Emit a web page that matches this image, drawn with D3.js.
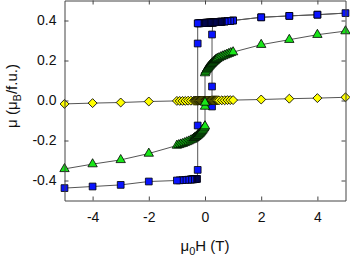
<!DOCTYPE html>
<html>
<head>
<meta charset="utf-8">
<script src="https://cdn.jsdelivr.net/npm/d3@7"></script>
<style>
  body { margin: 0; background: #fff; }
  text { font-family: "Liberation Sans", Arial, sans-serif; }
</style>
</head>
<body>
<div id="chart"></div>
<script>
// field (T) and moment (muB/f.u.)

// blue squares: virgin jump at +0.25 T, then full sweep 5 -> -5 T
var blueField = [0.25, 0.25, 0.25, 0.28, 0.4, 0.5, 0.6, 0.7, 0.8, 0.9, 1, 2, 3, 4, 5,
  4, 3, 2, 1, 0.9, 0.8, 0.7, 0.6,
  0.57, 0.54, 0.51, 0.48, 0.45, 0.42, 0.39, 0.36, 0.33, 0.30, 0.27, 0.24, 0.21, 0.18,
  0.15, 0.12, 0.09, 0.06, 0.03, 0, -0.03, -0.06, -0.09, -0.12, -0.15, -0.18, -0.21, -0.24,
  -0.26, -0.26, -0.26, -0.26, -0.26,
  -0.28, -0.31, -0.34, -0.37, -0.40, -0.43, -0.46, -0.49, -0.52,
  -0.6, -0.7, -0.8, -0.9, -1, -2, -3, -4, -5];
var blueMoment = [-0.03, 0.07, 0.33, 0.388, 0.392, 0.393, 0.394, 0.395, 0.397, 0.398, 0.4, 0.416, 0.423, 0.429, 0.437,
  0.429, 0.423, 0.416, 0.4, 0.398, 0.397, 0.395, 0.394,
  0.394, 0.394, 0.393, 0.393, 0.393, 0.392, 0.392, 0.392, 0.391, 0.391, 0.391, 0.39, 0.39, 0.39,
  0.39, 0.389, 0.389, 0.389, 0.389, 0.388, 0.388, 0.388, 0.387, 0.387, 0.387, 0.386, 0.386, 0.386,
  0.386, 0.285, 0.0, -0.125, -0.347,
  -0.392, -0.392, -0.393, -0.393, -0.394, -0.394, -0.394, -0.395, -0.395,
  -0.396, -0.397, -0.398, -0.399, -0.4, -0.405, -0.422, -0.43, -0.438];

// yellow diamonds
var yellowField = [-5, -4, -3, -2, -1, -0.9, -0.8, -0.7, -0.6, -0.5, -0.4,
  -0.36, -0.33, -0.3, -0.27, -0.24, -0.21, -0.18, -0.15, -0.12, -0.09, -0.06, -0.03, 0,
  0.03, 0.06, 0.09, 0.12, 0.15, 0.18, 0.21, 0.24, 0.27, 0.3, 0.33, 0.36, 0.39, 0.42, 0.45,
  0.5, 0.6, 0.7, 0.8, 0.9, 1, 2, 3, 4, 5];
var yellowMoment = [-0.017, -0.013, -0.01, -0.005, -0.002, -0.002, -0.002, -0.002, -0.001, -0.001, -0.001,
  -0.001, -0.001, -0.001, -0.001, -0.001, 0, 0, 0, 0, 0, 0, 0, 0,
  0, 0, 0, 0, 0, 0, 0, 0.001, 0.001, 0.001, 0.001, 0.001, 0.001, 0.001, 0.001,
  0.001, 0.001, 0.001, 0.002, 0.002, 0.002, 0.005, 0.009, 0.012, 0.016];

// green triangles
var greenField = [-5, -4, -3, -2, -1, -0.93, -0.86, -0.79, -0.72, -0.65, -0.58, -0.51, -0.45,
  -0.4, -0.37, -0.34, -0.31, -0.28, -0.25, -0.22, -0.19, -0.16, -0.13, -0.1, -0.07, -0.04, -0.02,
  0, 0, 0, 0,
  0.02, 0.05, 0.08, 0.11, 0.14, 0.17, 0.2, 0.23, 0.26, 0.29, 0.32, 0.35, 0.38, 0.41, 0.44,
  0.5, 0.57, 0.64, 0.71, 0.78, 0.85, 0.92, 1, 2, 3, 4, 5];
var greenMoment = [-0.342, -0.318, -0.297, -0.265, -0.225, -0.222, -0.219, -0.216, -0.212, -0.208, -0.204, -0.199, -0.195,
  -0.19, -0.187, -0.184, -0.181, -0.177, -0.174, -0.17, -0.166, -0.161, -0.156, -0.151, -0.145, -0.139, -0.134,
  -0.128, -0.03, -0.01, 0.137,
  0.145, 0.152, 0.158, 0.164, 0.169, 0.174, 0.179, 0.183, 0.187, 0.191, 0.195, 0.199, 0.203, 0.206, 0.209,
  0.213, 0.218, 0.222, 0.226, 0.23, 0.234, 0.238, 0.242, 0.279, 0.304, 0.329, 0.347];

var xTicks = [-4, -2, 0, 2, 4];
var yTicks = [-0.4, -0.2, 0.0, 0.2, 0.4];

var width = 350, height = 257;
var padL = 64.5, padR = 345.5, padT = 0.5, padB = 200.5;

var svg = d3.select("#chart").append("svg")
    .attr("width", width)
    .attr("height", height);

var x = d3.scaleLinear().domain([-5, 5]).range([padL, padR]);
var y = d3.scaleLinear().domain([-0.5, 0.5]).range([padB, padT]);

var zip = function(a, b) { return a.map(function(v, i) { return [v, b[i]]; }); };
var line = d3.line().x(function(d) { return x(d[0]); }).y(function(d) { return y(d[1]); });

// diamonds are squares turned by 45 degrees
var series = [
  { pts: zip(blueField, blueMoment), sym: d3.symbolSquare, size: 46, rot: 0, fill: "#0a14ff" },
  { pts: zip(yellowField, yellowMoment), sym: d3.symbolSquare, size: 40, rot: 45, fill: "#ffff00" },
  { pts: zip(greenField, greenMoment), sym: d3.symbolTriangle, size: 38, rot: 0, fill: "#19e619" }
];

// connecting lines first, markers on top
series.forEach(function(s) {
  svg.append("path")
      .attr("d", line(s.pts))
      .attr("fill", "none")
      .attr("stroke", "#555")
      .attr("stroke-width", 1);
});
series.forEach(function(s) {
  svg.append("g").selectAll("path")
      .data(s.pts)
      .enter().append("path")
      .attr("transform", function(d) {
        return "translate(" + x(d[0]) + "," + y(d[1]) + ") rotate(" + s.rot + ")";
      })
      .attr("d", d3.symbol().type(s.sym).size(s.size))
      .attr("fill", s.fill)
      .attr("stroke", "#000")
      .attr("stroke-width", 0.8);
});

// frame with inward ticks on all sides
var fmtX = function(d) { return String(d).replace("\u2212", "-"); };
var fmtY = function(d) { return d3.format(".1f")(d).replace("\u2212", "-"); };

function styleAxis(g) {
  g.select(".domain").attr("stroke", "#444");
  g.selectAll(".tick line").attr("stroke", "#444");
  g.selectAll("text").attr("font-size", 14).attr("fill", "#111")
      .attr("font-family", "Liberation Sans, Arial, sans-serif");
}

svg.append("g").attr("transform", "translate(0," + padB + ")")
    .call(d3.axisBottom(x).tickValues(xTicks).tickFormat(fmtX).tickSizeInner(-4).tickSizeOuter(0).tickPadding(12))
    .call(styleAxis);
svg.append("g").attr("transform", "translate(0," + padT + ")")
    .call(d3.axisTop(x).tickValues(xTicks).tickFormat("").tickSizeInner(-4).tickSizeOuter(0))
    .call(styleAxis);
svg.append("g").attr("transform", "translate(" + padL + ",0)")
    .call(d3.axisLeft(y).tickValues(yTicks).tickFormat(fmtY).tickSizeInner(-4).tickSizeOuter(0).tickPadding(8))
    .call(styleAxis);
svg.append("g").attr("transform", "translate(" + padR + ",0)")
    .call(d3.axisRight(y).tickValues(yTicks).tickFormat("").tickSizeInner(-4).tickSizeOuter(0))
    .call(styleAxis);

// axis titles
var xt = svg.append("text")
    .attr("x", 205).attr("y", 251)
    .attr("text-anchor", "middle")
    .attr("font-size", 15).attr("fill", "#111");
xt.append("tspan").text("\u03bc");
xt.append("tspan").attr("dy", 4).attr("font-size", 11).text("0");
xt.append("tspan").attr("dy", -4).text("H (T)");

var yt = svg.append("text")
    .attr("transform", "translate(17,96) rotate(-90)")
    .attr("text-anchor", "middle")
    .attr("font-size", 15).attr("fill", "#111");
yt.append("tspan").text("\u03bc (\u03bc");
yt.append("tspan").attr("dy", 4).attr("font-size", 11).text("B");
yt.append("tspan").attr("dy", -4).text("/f.u.)");
</script>
</body>
</html>
